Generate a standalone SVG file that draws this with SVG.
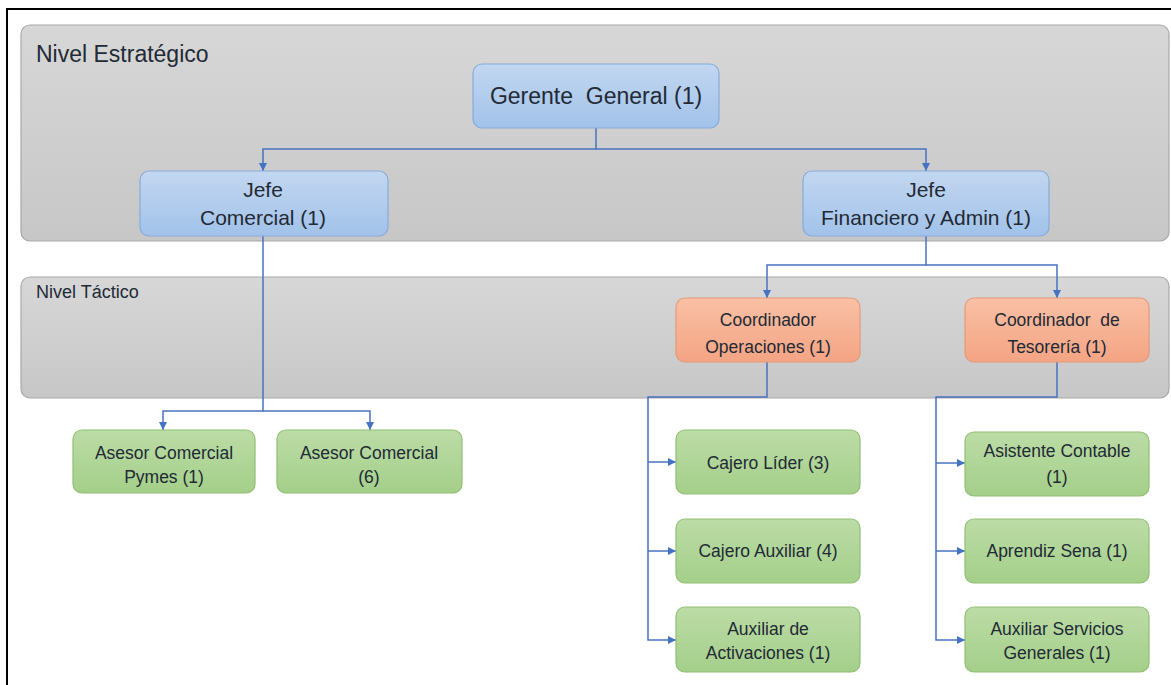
<svg xmlns="http://www.w3.org/2000/svg" width="1171" height="685" viewBox="0 0 1171 685">
  <defs>
    <linearGradient id="gBand" x1="0" y1="0" x2="0" y2="1">
      <stop offset="0" stop-color="#d7d7d7"/>
      <stop offset="1" stop-color="#c7c7c7"/>
    </linearGradient>
    <linearGradient id="gBlue" x1="0" y1="0" x2="0" y2="1">
      <stop offset="0" stop-color="#c2d7f0"/>
      <stop offset="1" stop-color="#a2c2ea"/>
    </linearGradient>
    <linearGradient id="gOrange" x1="0" y1="0" x2="0" y2="1">
      <stop offset="0" stop-color="#f9c0a5"/>
      <stop offset="1" stop-color="#f4a483"/>
    </linearGradient>
    <linearGradient id="gGreen" x1="0" y1="0" x2="0" y2="1">
      <stop offset="0" stop-color="#bcdca6"/>
      <stop offset="1" stop-color="#a4cf8a"/>
    </linearGradient>
    <marker id="arrow" viewBox="0 0 10 10" refX="10" refY="5" markerWidth="8" markerHeight="8" markerUnits="userSpaceOnUse" orient="auto">
      <path d="M0,0 L10,5 L0,10 z" fill="#4472c4"/>
    </marker>
  </defs>
  <style>
    .band { fill: url(#gBand); stroke: #a8a8a8; stroke-width: 1.2; }
    .blue { fill: url(#gBlue); stroke: #86abdb; stroke-width: 1.2; }
    .orange { fill: url(#gOrange); stroke: #e59a78; stroke-width: 1.2; }
    .green { fill: url(#gGreen); stroke: #90bf74; stroke-width: 1.2; }
    text { font-family: "Liberation Sans", Arial, sans-serif; fill: #222a35; white-space: pre; }
    .c { text-anchor: middle; }
    .lbl { font-size: 17.5px; }
    .jefe { font-size: 21px; }
    .conn { fill: none; stroke: #4a72c0; stroke-width: 1.5; }
  </style>

  <!-- page frame -->
  <rect x="0" y="0" width="1171" height="685" fill="#ffffff"/>
  <path d="M7,685 L7,9 L1171,9" fill="none" stroke="#000000" stroke-width="2"/>

  <!-- level bands -->
  <g id="nivel-estrategico">
    <rect class="band" x="21" y="25" width="1148" height="216" rx="9"/>
    <text x="36" y="62" font-size="23">Nivel Estratégico</text>
  </g>
  <g id="nivel-tactico">
    <rect class="band" x="21" y="277" width="1148" height="121" rx="9"/>
    <text x="36" y="298" font-size="18">Nivel Táctico</text>
  </g>

  <!-- connectors -->
  <g id="connectors">
    <path class="conn" d="M596,128 L596,149 L263,149 L263,171" marker-end="url(#arrow)"/>
    <path class="conn" d="M596,149 L926,149 L926,171" marker-end="url(#arrow)"/>
    <path class="conn" d="M263,236 L263,411 L163,411 L163,430" marker-end="url(#arrow)"/>
    <path class="conn" d="M263,411 L370,411 L370,430" marker-end="url(#arrow)"/>
    <path class="conn" d="M926,236 L926,265 L767,265 L767,298" marker-end="url(#arrow)"/>
    <path class="conn" d="M926,265 L1057,265 L1057,298" marker-end="url(#arrow)"/>
    <path class="conn" d="M767,362 L767,397 L648,397 L648,640 L676,640" marker-end="url(#arrow)"/>
    <path class="conn" d="M648,462 L676,462" marker-end="url(#arrow)"/>
    <path class="conn" d="M648,551 L676,551" marker-end="url(#arrow)"/>
    <path class="conn" d="M1057,362 L1057,397 L936,397 L936,640 L965,640" marker-end="url(#arrow)"/>
    <path class="conn" d="M936,463 L965,463" marker-end="url(#arrow)"/>
    <path class="conn" d="M936,551 L965,551" marker-end="url(#arrow)"/>
  </g>

  <!-- strategic nodes -->
  <g id="gerente-general">
    <rect class="blue" x="473" y="64" width="246" height="64" rx="9"/>
    <text class="c" x="596" y="104" font-size="23">Gerente  General (1)</text>
  </g>
  <g id="jefe-comercial">
    <rect class="blue" x="140" y="171" width="248" height="65" rx="9"/>
    <text class="c jefe" x="263" y="197">Jefe</text>
    <text class="c jefe" x="263" y="225">Comercial (1)</text>
  </g>
  <g id="jefe-financiero">
    <rect class="blue" x="803" y="171" width="246" height="65" rx="9"/>
    <text class="c jefe" x="926" y="197">Jefe</text>
    <text class="c jefe" x="926" y="225">Financiero y Admin (1)</text>
  </g>

  <!-- tactical nodes -->
  <g id="coordinador-operaciones">
    <rect class="orange" x="676" y="298" width="184" height="64" rx="9"/>
    <text class="c lbl" x="768" y="326">Coordinador</text>
    <text class="c lbl" x="768" y="353">Operaciones (1)</text>
  </g>
  <g id="coordinador-tesoreria">
    <rect class="orange" x="965" y="298" width="184" height="64" rx="9"/>
    <text class="c lbl" x="1057" y="326">Coordinador  de</text>
    <text class="c lbl" x="1057" y="353">Tesorería (1)</text>
  </g>

  <!-- operational nodes: commercial -->
  <g id="asesor-pymes">
    <rect class="green" x="73" y="430" width="182" height="63" rx="9"/>
    <text class="c lbl" x="164" y="459">Asesor Comercial</text>
    <text class="c lbl" x="164" y="483">Pymes (1)</text>
  </g>
  <g id="asesor-comercial">
    <rect class="green" x="277" y="430" width="185" height="63" rx="9"/>
    <text class="c lbl" x="369" y="459">Asesor Comercial</text>
    <text class="c lbl" x="369" y="483">(6)</text>
  </g>

  <!-- operational nodes: operations -->
  <g id="cajero-lider">
    <rect class="green" x="676" y="430" width="184" height="64" rx="9"/>
    <text class="c lbl" x="768" y="469">Cajero Líder (3)</text>
  </g>
  <g id="cajero-auxiliar">
    <rect class="green" x="676" y="519" width="184" height="64" rx="9"/>
    <text class="c lbl" x="768" y="557">Cajero Auxiliar (4)</text>
  </g>
  <g id="auxiliar-activaciones">
    <rect class="green" x="676" y="607" width="184" height="65" rx="9"/>
    <text class="c lbl" x="768" y="635">Auxiliar de</text>
    <text class="c lbl" x="768" y="659">Activaciones (1)</text>
  </g>

  <!-- operational nodes: treasury -->
  <g id="asistente-contable">
    <rect class="green" x="965" y="432" width="184" height="64" rx="9"/>
    <text class="c lbl" x="1057" y="457">Asistente Contable</text>
    <text class="c lbl" x="1057" y="483">(1)</text>
  </g>
  <g id="aprendiz-sena">
    <rect class="green" x="965" y="519" width="184" height="64" rx="9"/>
    <text class="c lbl" x="1057" y="557">Aprendiz Sena (1)</text>
  </g>
  <g id="auxiliar-servicios">
    <rect class="green" x="965" y="607" width="184" height="65" rx="9"/>
    <text class="c lbl" x="1057" y="635">Auxiliar Servicios</text>
    <text class="c lbl" x="1057" y="659">Generales (1)</text>
  </g>
</svg>
